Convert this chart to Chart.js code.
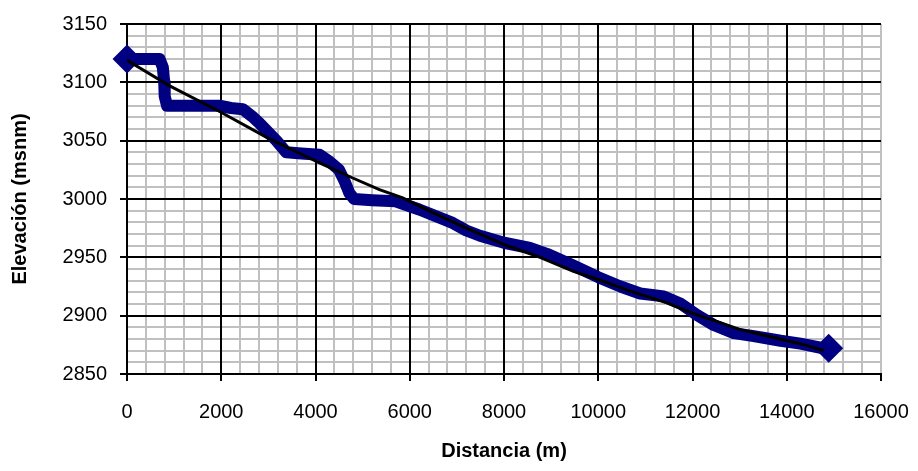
<!DOCTYPE html>
<html>
<head>
<meta charset="utf-8">
<script src="https://cdn.jsdelivr.net/npm/chart.js@4.4.0/dist/chart.umd.min.js"></script>
<style>
	body { margin: 0; background: #fff; }
	#wrap { width: 918px; height: 471px; }
</style>
</head>
<body>
<div id="wrap"><canvas id="myChart" width="918" height="471"></canvas></div>
<script>
// perfil del cauce
var distPerfil = [0, 300, 690, 760, 790, 800, 850, 1200, 1960, 2200, 2460, 2650, 2810, 3000, 3170, 3380, 3700, 4085,
	4300, 4500, 4620, 4720, 4820, 5200, 5700, 6200, 6910, 7200, 7490, 8000, 8550, 8910, 9470, 10000, 10470,
	10890, 11390, 11740, 12100, 12450, 12880, 13300, 13870, 14290, 14720, 14890];
var elevPerfil = [3120, 3120, 3120, 3113, 3100, 3088, 3080, 3080, 3080, 3078, 3077, 3071, 3065, 3057, 3050, 3040, 3039, 3038,
	3032, 3025, 3015, 3005, 3000, 2999, 2998, 2991, 2979.5, 2973, 2968.5, 2962.5, 2958, 2953, 2943, 2933, 2925,
	2919, 2916.5, 2910.5, 2900.5, 2892, 2885, 2882.5, 2878.5, 2876, 2872.5, 2872];

// linea de tendencia
var distTend = [0, 905, 1965, 2954, 3519, 4085, 4790, 5357, 5851, 6558, 7265, 7490, 8000, 8765, 9474, 10000, 10678,
	11457, 12003, 12449, 13016, 13654, 14291, 14787];
var elevTend = [3119, 3097, 3075, 3053, 3042, 3031, 3018, 3008, 3001, 2987, 2974, 2970, 2961, 2950, 2938, 2931, 2921,
	2911, 2902, 2896, 2888, 2882, 2876, 2870];

var perfil = distPerfil.map(function(d, i) { return { x: d, y: elevPerfil[i] }; });
var tendencia = distTend.map(function(d, i) { return { x: d, y: elevTend[i] }; });

Chart.defaults.font.family = "'Liberation Sans', Arial, sans-serif";
Chart.defaults.color = '#000';

// sin separador de miles
function sinComa(v) { return String(v); }

var ctx = document.getElementById('myChart').getContext('2d');
var myChart = new Chart(ctx, {
	type: 'scatter',
	data: {
		datasets: [
			{
				label: 'Tendencia',
				data: tendencia,
				showLine: true,
				borderColor: '#000',
				borderWidth: 3,
				pointRadius: 0,
				order: 1,
				clip: false
			},
			{
				label: 'Perfil',
				data: perfil,
				showLine: true,
				borderColor: '#000080',
				backgroundColor: '#000080',
				borderWidth: 12,
				borderJoinStyle: 'round',
				borderCapStyle: 'butt',
				pointStyle: 'rectRot',
				pointRadius: function(c) {
					return (c.dataIndex === 0 || c.dataIndex === distPerfil.length - 1) ? 6 : 0;
				},
				order: 2,
				clip: false
			}
		]
	},
	options: {
		responsive: false,
		animation: false,
		layout: { padding: { left: 0, top: 24, right: 37, bottom: 0 } },
		plugins: { legend: { display: false }, tooltip: { enabled: false } },
		scales: {
			xMinor: {
				type: 'linear', position: 'bottom', min: 0, max: 16000,
				ticks: { stepSize: 400, maxTicksLimit: 1000, display: false },
				grid: { color: '#c0c0c0', lineWidth: 2, drawTicks: false, z: -2 },
				border: { display: false },
				afterFit: function(s) { s.height = 0; s.paddingLeft = 0; s.paddingRight = 0; }
			},
			yMinor: {
				type: 'linear', position: 'left', min: 2850, max: 3150,
				ticks: { stepSize: 10, maxTicksLimit: 1000, display: false },
				grid: { color: '#c0c0c0', lineWidth: 2, drawTicks: false, z: -2 },
				border: { display: false },
				afterFit: function(s) { s.width = 0; s.paddingTop = 0; s.paddingBottom = 0; }
			},
			x: {
				type: 'linear', position: 'bottom', min: 0, max: 16000,
				ticks: { stepSize: 2000, maxTicksLimit: 1000, autoSkip: false, maxRotation: 0, padding: 19, font: { size: 20 }, callback: sinComa },
				grid: {
					color: function(c) { return c.tick && c.tick.value === 16000 ? 'rgba(0,0,0,0)' : '#000'; },
					lineWidth: 2, tickLength: 7, tickColor: '#000', tickWidth: 2
				},
				border: { color: '#000', width: 2 },
				title: { display: true, text: 'Distancia (m)', font: { size: 20, weight: 'bold' }, padding: { top: 0, bottom: 8 } },
				afterFit: function(s) { s.height = 97; s.paddingLeft = 0; s.paddingRight = 0; }
			},
			y: {
				type: 'linear', position: 'left', min: 2850, max: 3150,
				ticks: { stepSize: 50, maxTicksLimit: 1000, autoSkip: false, padding: 13, font: { size: 20 }, callback: sinComa },
				grid: { color: '#000', lineWidth: 2, tickLength: 7, tickColor: '#000', tickWidth: 2 },
				border: { color: '#000', width: 2 },
				title: { display: true, text: 'Elevación (msnm)', font: { size: 20, weight: 'bold' }, padding: { top: 8, bottom: 0 } },
				afterFit: function(s) { s.width = 127; s.paddingTop = 0; s.paddingBottom = 0; }
			}
		}
	}
});
</script>
</body>
</html>
